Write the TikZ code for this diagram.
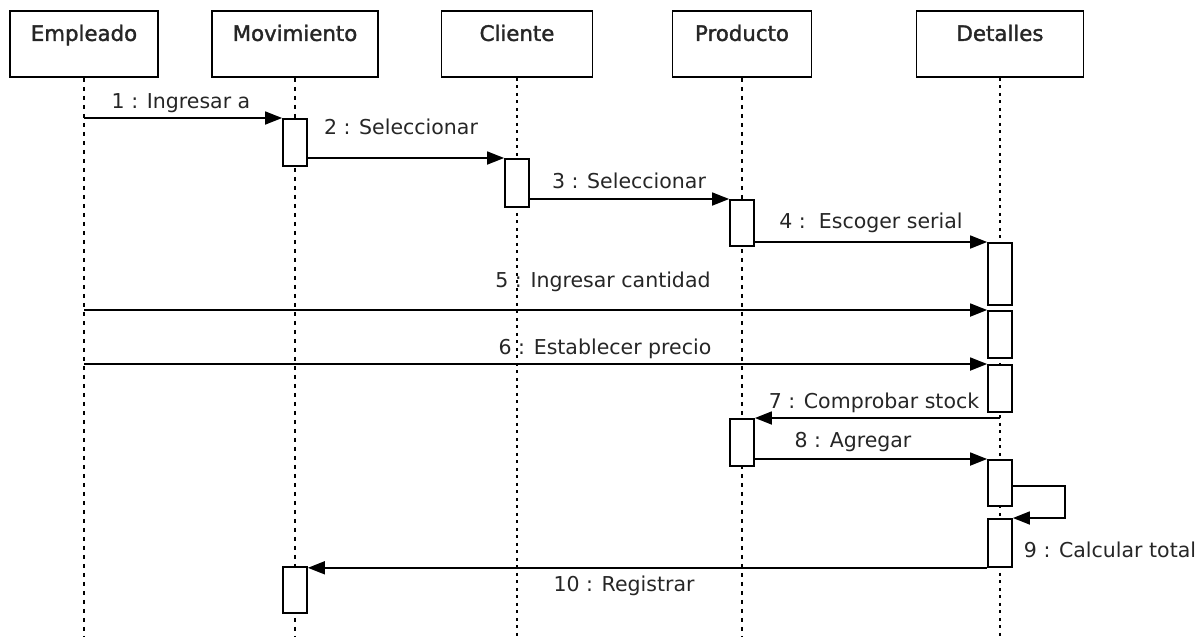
\documentclass[tikz,border=0pt]{standalone}
\usepackage{fontspec}
\setmainfont{DejaVu Sans}
\newfontfamily\headfont[FakeBold=1.6]{DejaVu Sans}
\usetikzlibrary{arrows.meta}
\begin{document}
\begin{tikzpicture}[x=1pt,y=-1pt,
  head/.style={draw, line width=1.8pt, minimum width=#1, inner xsep=0pt, inner ysep=0pt,
    text height=30pt, text depth=36pt, anchor=north,
    font=\headfont\fontsize{21.3}{24}\selectfont, text=black!85},
  lifeline/.style={line width=1.3pt, dash pattern=on 4pt off 5pt},
  lifelinebold/.style={line width=2.3pt, dash pattern=on 3pt off 4.5pt},
  act/.style={draw, fill=white, line width=1.8pt, minimum width=24pt, inner sep=0pt, anchor=north},
  msg/.style={line width=1.8pt, -{Triangle[length=17pt,width=13pt]}, line join=miter},
  lbl/.style={anchor=base, inner sep=0pt, font=\fontsize{20.5}{24}\selectfont, text=black!85}
]
\useasboundingbox (0,0) rectangle (1202,637);
\fill[white] (0,0) rectangle (1202,637);

% object heads
\node[head=148pt] (hEmp) at (84,10)   {Empleado};
\node[head=166pt] (hMov) at (295,10)  {Movimiento};
\node[head=151pt] (hCli) at (517,10)  {Cliente};
\node[head=139pt] (hPro) at (742,10)  {Producto};
\node[head=167pt] (hDet) at (1000,10) {Detalles};

% lifelines down to the bottom edge
\coordinate (endEmp) at (hEmp.south |- 0,637);
\coordinate (endMov) at (hMov.south |- 0,637);
\coordinate (endCli) at (hCli.south |- 0,637);
\coordinate (endPro) at (hPro.south |- 0,637);
\coordinate (endDet) at (hDet.south |- 0,637);
\draw[lifeline]     (hEmp.south) -- (endEmp);
\draw[lifeline]     (hMov.south) -- (endMov);
\draw[lifelinebold] (hCli.south) -- (endCli);
\draw[lifeline]     (hPro.south) -- (endPro);
\draw[lifelinebold] (hDet.south) -- (endDet);

% activation bars
\node[act, minimum height=47pt] (a1)  at (hMov.south |- 0,118) {};
\node[act, minimum height=48pt] (a2)  at (hCli.south |- 0,158) {};
\node[act, minimum height=46pt] (a3)  at (hPro.south |- 0,199) {};
\node[act, minimum height=62pt] (a4)  at (hDet.south |- 0,242) {};
\node[act, minimum height=47pt] (a5)  at (hDet.south |- 0,310) {};
\node[act, minimum height=47pt] (a6)  at (hDet.south |- 0,364) {};
\node[act, minimum height=47pt] (a7)  at (hPro.south |- 0,418) {};
\node[act, minimum height=46pt] (a8)  at (hDet.south |- 0,459) {};
\node[act, minimum height=48pt] (a9)  at (hDet.south |- 0,518) {};
\node[act, minimum height=46pt] (a10) at (hMov.south |- 0,566) {};

% messages
\draw[msg] (hEmp.south |- a1.north west) -- (a1.north west);
\draw[msg] (a1.east |- a2.north west) -- (a2.north west);
\draw[msg] (a2.east |- a3.north west) -- (a3.north west);
\draw[msg] (a3.east |- a4.north west) -- (a4.north west);
\draw[msg] (hEmp.south |- a5.north west) -- (a5.north west);
\draw[msg] (hEmp.south |- a6.north west) -- (a6.north west);
\draw[msg] (hDet.south |- a7.north east) -- (a7.north east);
\draw[msg] (a7.east |- a8.north west) -- (a8.north west);
\coordinate (loopR) at (1065,486);
\draw[msg] (a8.east |- loopR) -- (loopR) |- (a9.north east);
\draw[msg] (a9.south west) -- (a9.south west -| a10.north east);

% message labels
\node[lbl] (l1)  at (181,108)  {1 : Ingresar a};
\node[lbl] (l2)  at (401,134)  {2 : Seleccionar};
\node[lbl] (l3)  at (629,188)  {3 : Seleccionar};
\node[lbl] (l4)  at (871,228)  {4 :\ \ Escoger serial};
\node[lbl] (l5)  at (603,287)  {5 : Ingresar cantidad};
\node[lbl] (l6)  at (605,354)  {6 : Establecer precio};
\node[lbl] (l7)  at (874,408)  {7 : Comprobar stock};
\node[lbl] (l8)  at (853,447)  {8 : Agregar};
\node[lbl] (l9)  at (1110,557) {9 : Calcular total};
\node[lbl] (l10) at (624,591)  {10 : Registrar};
\end{tikzpicture}
\end{document}
